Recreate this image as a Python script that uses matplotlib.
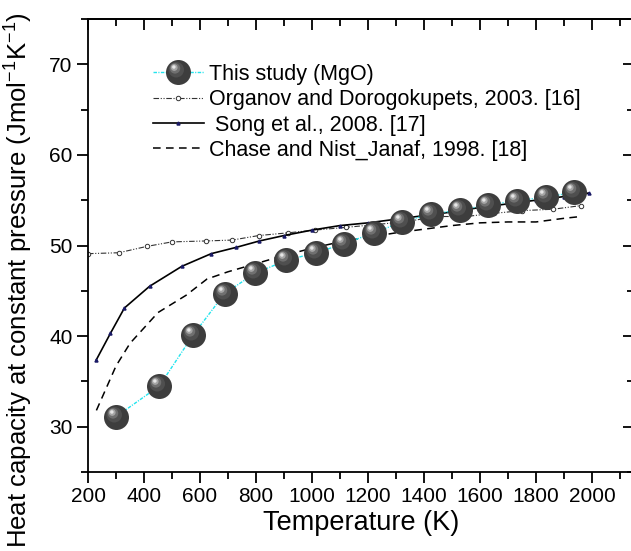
import numpy as np
import matplotlib
matplotlib.use('Agg')
import matplotlib.pyplot as plt
from matplotlib.path import Path
from matplotlib.legend_handler import HandlerTuple

plt.rcParams['font.family'] = ['Liberation Sans', 'DejaVu Sans']

# Data
T_study = [300, 455, 575, 688, 797, 908, 1013, 1116, 1220, 1323, 1425, 1529, 1630, 1733, 1835, 1935]
Cp_study = [31.1, 34.5, 40.1, 44.7, 46.95, 48.35, 49.2, 50.2, 51.4, 52.6, 53.5, 53.9, 54.5, 54.95, 55.35, 55.85]

T_organov = [200, 310, 410, 500, 620, 715, 810, 915, 1010, 1120, 1225, 1340, 1445, 1550, 1650, 1750, 1860, 1960]
Cp_organov = [49.1, 49.2, 49.9, 50.4, 50.5, 50.6, 51.1, 51.4, 51.7, 52.0, 52.3, 52.65, 53.2, 53.2, 53.55, 53.85, 54.0, 54.4]

T_song = [230, 280, 330, 420, 535, 640, 730, 812, 900, 1000, 1100, 1200, 1300, 1400, 1500, 1600, 1700, 1800, 1900, 1990]
Cp_song = [37.4, 40.3, 43.1, 45.5, 47.7, 49.1, 49.8, 50.5, 51.1, 51.7, 52.2, 52.5, 52.9, 53.3, 53.7, 54.2, 54.6, 55.0, 55.4, 55.8]

T_chase = [230, 300, 350, 450, 550, 625, 700, 767, 900, 1000, 1100, 1200, 1300, 1400, 1500, 1600, 1700, 1800, 1900, 1960]
Cp_chase = [31.8, 36.7, 39.2, 42.6, 44.5, 46.3, 47.1, 47.7, 48.9, 49.7, 50.4, 50.9, 51.4, 51.8, 52.2, 52.5, 52.6, 52.6, 53.0, 53.2]

labels = ['This study (MgO)', 'Organov and Dorogokupets, 2003. [16]',
          ' Song et al., 2008. [17]', 'Chase and Nist_Janaf, 1998. [18]']


def ball_marker(cx, cy, r):
    # circle inside a fixed [-1, 1] box so all layers share one scale
    box = Path([(-1, -1), (1, 1)], [Path.MOVETO, Path.MOVETO])
    circ = Path.circle((cx, cy), r)
    return Path.make_compound_path(box, circ)


# shaded sphere layers: (cx, cy, r, colour)
layers = [(0, 0, 1.0, '#3d3d3d'),
          (-0.18, 0.22, 0.62, '#4f4f4f'),
          (-0.28, 0.33, 0.42, '#707070'),
          (-0.34, 0.40, 0.27, '#a6a6a6'),
          (-0.37, 0.44, 0.14, '#e6e6e6')]

fig = plt.figure(figsize=(6.31, 5.51), dpi=100)
ax = fig.add_axes([88 / 631, 79 / 551, 546 / 631, 453 / 551])

line_study, = ax.plot(T_study, Cp_study, color='#22e4ee', lw=1.0,
                      linestyle=(0, (2.5, 1, 0.8, 1)), zorder=3)
ball_handles = []
for cx, cy, r, c in layers:
    h, = ax.plot(T_study, Cp_study, linestyle='none', marker=ball_marker(cx, cy, r),
                 markersize=18, color=c, markeredgewidth=0, zorder=4)
    ball_handles.append(h)

line_org, = ax.plot(T_organov, Cp_organov, color='#333333', lw=0.8,
                    linestyle=(0, (5, 1.5, 1, 1.5, 1, 1.5)), marker='o', markersize=3.2,
                    markerfacecolor='white', markeredgecolor='#333333', markeredgewidth=0.7)
line_song, = ax.plot(T_song, Cp_song, color='black', lw=1.2, marker='^', markersize=2.2,
                     markerfacecolor='#1a1a66', markeredgecolor='#1a1a66')
line_chase, = ax.plot(T_chase, Cp_chase, color='black', lw=1.1, dashes=(5, 3.5))

ax.set_xlim(200, 2150)
ax.set_ylim(25, 75)
xmaj = np.arange(200, 2001, 200)
xmin = np.arange(300, 2150, 100)
ymaj = np.arange(30, 71, 10)
ymin = np.arange(25, 76, 5)
ax.set_xticks(xmaj)
ax.set_xticks(xmin, minor=True)
ax.set_yticks(ymaj)
ax.set_yticks(ymin, minor=True)

for s in ax.spines.values():
    s.set_linewidth(1.3)
ax.tick_params(axis='both', which='major', direction='out', length=8, width=1.3,
               labelsize=15, pad=3)
ax.tick_params(axis='both', which='minor', direction='out', length=5, width=1.3)

# top and right ticks point inward
top = ax.secondary_xaxis('top')
top.set_xticks(xmaj)
top.set_xticks(xmin, minor=True)
top.tick_params(which='major', direction='in', length=8, width=1.3, labeltop=False)
top.tick_params(which='minor', direction='in', length=5, width=1.3)
top.spines['top'].set_linewidth(1.3)
right = ax.secondary_yaxis('right')
right.set_yticks(ymaj)
right.set_yticks(ymin, minor=True)
right.tick_params(which='major', direction='in', length=8, width=1.3, labelright=False)
right.tick_params(which='minor', direction='in', length=5, width=1.3)

ax.set_xlabel('Temperature (K)', fontsize=19.5, labelpad=3)
ax.set_ylabel(r'Heat capacity at constant pressure (Jmol$^{\mathregular{-1}}$K$^{\mathregular{-1}}$)',
              fontsize=18.5)
ax.yaxis.set_label_coords(-0.099, 0.424)

handles = [tuple([line_study] + ball_handles), line_org, line_song, line_chase]
ax.legend(handles, labels, handler_map={tuple: HandlerTuple(ndivide=1)},
          loc='upper left', bbox_to_anchor=(65 / 546, (472 - 64) / 453),
          frameon=False, fontsize=15.5, handlelength=2.35, handletextpad=0.25,
          labelspacing=0.2, borderpad=0, borderaxespad=0, numpoints=1)

fig.savefig('out.png', dpi=100)
